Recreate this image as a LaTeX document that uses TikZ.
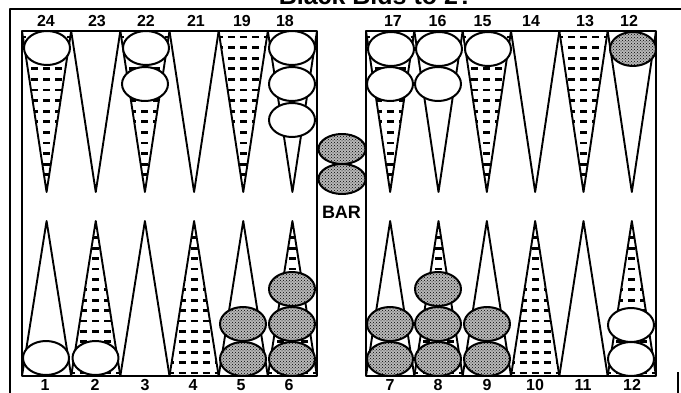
\documentclass[tikz,border=0pt]{standalone}
\usepackage{fontspec}
\setmainfont{Liberation Sans}
\usetikzlibrary{patterns,shapes.geometric}
\begin{document}
\begin{tikzpicture}[x=1pt,y=-1pt,line join=round,
  lbl/.style={font=\bfseries\fontsize{16}{16}\selectfont,inner sep=0pt},
  barlbl/.style={font=\bfseries\fontsize{18}{18}\selectfont,inner sep=0pt},
  ttl/.style={font=\bfseries\fontsize{25}{25}\selectfont,inner sep=0pt,anchor=base},
  tri/.style={draw=black,line width=1.9pt},
  board/.style={draw=black,line width=2.1pt},
  frame/.style={draw=black,line width=2.4pt},
  dashrow/.style={draw=black,line width=2.8pt,dash pattern=on 7pt off 5pt},
  chk/.style={ellipse,draw=black,line width=2pt,inner sep=0pt,minimum width=46pt,minimum height=34pt},
  wchk/.style={chk,fill=white},
  bchk/.style={chk,preaction={fill=black!28},pattern=crosshatch dots,pattern color=black}]
\useasboundingbox (0,0) rectangle (681,393);

% title (cut off at the top edge, as in the reference)
\node[ttl] (title) at (376,5) {Black Bids to 2?};

% outer frame
\draw[frame] (10,393) -- (10,9) -- (690,9);
\draw[frame] (678,372) -- (678,393);

% ---- top points ----
\foreach \x/\w/\d in {22/49.167/1,71.167/49.167/0,120.333/49.167/1,169.5/49.167/0,218.667/49.167/1,267.833/49.167/0,
                      366/48.333/1,414.333/48.333/0,462.667/48.333/1,511/48.333/0,559.333/48.333/1,607.667/48.333/0}{
  \pgfmathsetmacro\xb{\x+\w}
  \pgfmathsetmacro\xm{\x+\w/2}
  \ifnum\d=1
    \begin{scope}
      \clip (\x,31) -- (\xm,192) -- (\xb,31) -- cycle;
      \foreach \k in {0,...,15}{
        \draw[dashrow] (\xm-63.5,37+10.6*\k) -- (\xm+63.5,37+10.6*\k);
      }
    \end{scope}
  \fi
  \draw[tri] (\x,31) -- (\xm,192) -- (\xb,31);
}
% ---- bottom points ----
\foreach \x/\w/\d in {22/49.167/0,71.167/49.167/1,120.333/49.167/0,169.5/49.167/1,218.667/49.167/0,267.833/49.167/1,
                      366/48.333/0,414.333/48.333/1,462.667/48.333/0,511/48.333/1,559.333/48.333/0,607.667/48.333/1}{
  \pgfmathsetmacro\xb{\x+\w}
  \pgfmathsetmacro\xm{\x+\w/2}
  \ifnum\d=1
    \begin{scope}
      \clip (\x,376) -- (\xm,221) -- (\xb,376) -- cycle;
      \foreach \k in {0,...,15}{
        \draw[dashrow] (\xm-63.5,373-10.4*\k) -- (\xm+63.5,373-10.4*\k);
      }
    \end{scope}
  \fi
  \draw[tri] (\x,376) -- (\xm,221) -- (\xb,376);
}

% boards
\draw[board] (22,31) rectangle (317,376);
\draw[board] (366,31) rectangle (656,376);

% ---- checkers ----
% top
\node[wchk] (c24a) at (47,48) {};
\node[wchk] (c22a) at (146,48) {};
\node[wchk] (c22b) at (145,84) {};
\node[wchk] (c18a) at (292,48) {};
\node[wchk] (c18b) at (292,84) {};
\node[wchk] (c18c) at (292,120) {};
\node[wchk] (c17a) at (391,49) {};
\node[wchk] (c17b) at (390,84) {};
\node[wchk] (c16a) at (439,49) {};
\node[wchk] (c16b) at (438,84) {};
\node[wchk] (c15a) at (488,49) {};
\node[bchk] (c12t) at (633,49) {};
% bar
\node[bchk,minimum width=47pt,minimum height=30pt] (bar1) at (342,149) {};
\node[bchk,minimum width=47pt,minimum height=30pt] (bar2) at (342,179) {};
% bottom
\node[wchk] (c1a) at (46,358) {};
\node[wchk] (c2a) at (95.5,358) {};
\node[bchk] (c5a) at (243,359) {};
\node[bchk] (c5b) at (243,324) {};
\node[bchk] (c6a) at (292,359) {};
\node[bchk] (c6b) at (292,324) {};
\node[bchk] (c6c) at (292,289) {};
\node[bchk] (c7a) at (390,359) {};
\node[bchk] (c7b) at (390,324) {};
\node[bchk] (c8a) at (438,359) {};
\node[bchk] (c8b) at (438,324) {};
\node[bchk] (c8c) at (438,289) {};
\node[bchk] (c9a) at (487,359) {};
\node[bchk] (c9b) at (487,324) {};
\node[wchk] (c12a) at (631,359) {};
\node[wchk] (c12b) at (631,325) {};

\node[barlbl] (barlabel) at (341.5,212) {BAR};

% ---- labels ----
\foreach \lx/\t [count=\n] in {46/24,97/23,146/22,196/21,242/19,285/18,393/17,437.5/16,482.5/15,531/14,585/13,629/12}{
  \node[lbl] (top\n) at (\lx,21) {\t};
}
\foreach \lx/\t [count=\n] in {45/1,95/2,145/3,193/4,241/5,289/6,390/7,438/8,487/9,535/10,583/11,632/12}{
  \node[lbl] (bot\n) at (\lx,385) {\t};
}
\end{tikzpicture}
\end{document}
